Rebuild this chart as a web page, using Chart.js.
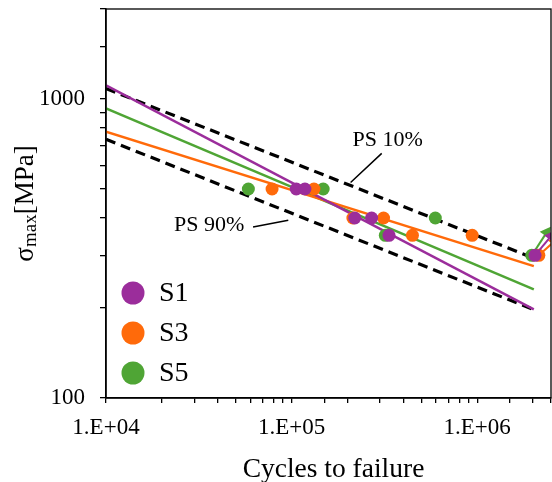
<!DOCTYPE html>
<html lang="en">
<head>
  <meta charset="UTF-8">
  <title>S-N curves</title>
  <script src="https://cdn.jsdelivr.net/npm/chart.js"></script>
  <style>
    body {
      margin: 0;
      padding: 0;
      background-color: #ffffff;
    }
    .chart-container {
      position: relative;
      width: 552px;
      height: 482px;
    }
  </style>
</head>
<body>
  <div class="chart-container">
    <canvas id="snChart" width="552" height="482"></canvas>
  </div>

  <script>
    // Data
    const seriesNames = ['S1', 'S3', 'S5'];
    const seriesColors = ['#9b2d9b', '#ff6a0a', '#4fa535'];

    const s1Cycles = [1.06e5, 1.18e5, 2.19e5, 2.70e5, 3.35e5];
    const s1Stress = [500, 500, 400, 400, 350];
    const s3Cycles = [7.85e4, 1.32e5, 2.14e5, 3.13e5, 4.48e5, 9.4e5];
    const s3Stress = [500, 500, 400, 400, 350, 350];
    const s5Cycles = [5.85e4, 1.48e5, 5.95e5, 3.2e5];
    const s5Stress = [500, 500, 400, 350];

    // run-outs: [start, arrow end]
    const s1RunoutCycles = [2.05e6, 2.5e6];
    const s1RunoutStress = [300, 348];
    const s3RunoutCycles = [2.15e6, 2.62e6];
    const s3RunoutStress = [300, 335];
    const s5RunoutCycles = [1.97e6, 2.37e6];
    const s5RunoutStress = [300, 358];

    // fitted curves (end points)
    const fitCycles = [1e4, 2.02e6];
    const s1FitStress = [1110, 198];
    const s3FitStress = [778, 276];
    const s5FitStress = [930, 231];
    const ps10Cycles = [1e4, 1.95e6];
    const ps10Stress = [1084, 296];
    const ps90Cycles = [1e4, 2.0e6];
    const ps90Stress = [733, 198];

    const xMajor = [1e4, 1e5, 1e6];
    const xMajorLabels = ['1.E+04', '1.E+05', '1.E+06'];
    const yMajor = [100, 1000];
    const yMajorLabels = ['100', '1000'];

    const serif = "'Liberation Serif', 'Times New Roman', serif";

    function pts(xs, ys) {
      return xs.map((x, i) => ({ x: x, y: ys[i] }));
    }

    function pointSet(i, xs, ys) {
      return {
        label: seriesNames[i],
        data: pts(xs, ys),
        backgroundColor: seriesColors[i],
        borderColor: seriesColors[i],
        pointRadius: 6.5,
        pointBorderWidth: 0,
        showLine: false,
        order: i
      };
    }

    function fitSet(i, ys) {
      return {
        label: seriesNames[i] + ' fit',
        data: pts(fitCycles, ys),
        borderColor: seriesColors[i],
        borderWidth: 2.5,
        pointRadius: 0,
        showLine: true,
        order: 10 + i
      };
    }

    function runoutSet(i, xs, ys) {
      return {
        label: seriesNames[i] + ' run-out',
        data: pts(xs, ys),
        borderColor: seriesColors[i],
        backgroundColor: seriesColors[i],
        borderWidth: 2,
        pointRadius: [6.5, 7],
        pointStyle: ['circle', 'triangle'],
        rotation: [0, 35],
        pointBorderWidth: 0,
        showLine: true,
        order: 5 + i
      };
    }

    function bandSet(name, xs, ys) {
      return {
        label: name,
        data: pts(xs, ys),
        borderColor: '#000000',
        borderWidth: 3.2,
        borderDash: [10, 6],
        pointRadius: 0,
        showLine: true,
        order: 20
      };
    }

    // keep the plot box fixed, labels may overflow
    function noPad(scale) {
      scale.paddingTop = 0;
      scale.paddingBottom = 0;
      scale.paddingLeft = 0;
      scale.paddingRight = 0;
    }

    const decorPlugin = {
      id: 'decor',
      afterDraw(chart) {
        const ctx = chart.ctx;
        const area = chart.chartArea;
        const xs = chart.scales.x;
        const ys = chart.scales.y;
        ctx.save();

        // frame
        ctx.strokeStyle = '#000';
        ctx.lineWidth = 1.3;
        ctx.strokeRect(area.left, area.top, area.right - area.left, area.bottom - area.top);

        // annotations
        ctx.fillStyle = '#000';
        ctx.font = '22px ' + serif;
        ctx.textAlign = 'center';
        ctx.textBaseline = 'middle';
        ctx.fillText('PS 10%', xs.getPixelForValue(3.29e5), ys.getPixelForValue(727));
        ctx.fillText('PS 90%', xs.getPixelForValue(3.6e4), ys.getPixelForValue(378));
        ctx.lineWidth = 1.5;
        ctx.beginPath();
        ctx.moveTo(xs.getPixelForValue(2.08e5), ys.getPixelForValue(526));
        ctx.lineTo(xs.getPixelForValue(3.06e5), ys.getPixelForValue(658));
        ctx.moveTo(xs.getPixelForValue(6.2e4), ys.getPixelForValue(373));
        ctx.lineTo(xs.getPixelForValue(9.6e4), ys.getPixelForValue(393));
        ctx.stroke();

        // legend
        ctx.font = '28px ' + serif;
        ctx.textAlign = 'left';
        seriesNames.forEach((name, i) => {
          const cy = area.bottom - 105 + i * 40;
          ctx.fillStyle = seriesColors[i];
          ctx.beginPath();
          ctx.arc(area.left + 27, cy, 11.5, 0, Math.PI * 2);
          ctx.fill();
          ctx.fillStyle = '#000';
          ctx.fillText(name, area.left + 53, cy + 1);
        });

        // x title
        ctx.font = '27.5px ' + serif;
        ctx.textAlign = 'center';
        ctx.textBaseline = 'alphabetic';
        ctx.fillText('Cycles to failure', (area.left + area.right) / 2 + 5, 477);

        // y title with subscript
        ctx.translate(33, 0);
        ctx.rotate(-Math.PI / 2);
        ctx.textAlign = 'left';
        const main = '27px ' + serif;
        const sub = '19px ' + serif;
        ctx.font = main;
        const w1 = ctx.measureText('\u03c3').width;
        const w3 = ctx.measureText('[MPa]').width;
        ctx.font = sub;
        const w2 = ctx.measureText('max').width;
        const total = w1 + w2 + w3;
        let pos = -((area.top + area.bottom) / 2) - total / 2;
        ctx.font = main;
        ctx.fillText('\u03c3', pos, 0);
        pos += w1;
        ctx.font = sub;
        ctx.fillText('max', pos, 3);
        pos += w2;
        ctx.font = main;
        ctx.fillText('[MPa]', pos, 0);

        ctx.restore();
      }
    };

    const ctxSn = document.getElementById('snChart').getContext('2d');
    const snChart = new Chart(ctxSn, {
      type: 'scatter',
      data: {
        datasets: [
          pointSet(0, s1Cycles, s1Stress),
          pointSet(1, s3Cycles, s3Stress),
          pointSet(2, s5Cycles, s5Stress),
          runoutSet(0, s1RunoutCycles, s1RunoutStress),
          runoutSet(1, s3RunoutCycles, s3RunoutStress),
          runoutSet(2, s5RunoutCycles, s5RunoutStress),
          fitSet(0, s1FitStress),
          fitSet(1, s3FitStress),
          fitSet(2, s5FitStress),
          bandSet('PS 10%', ps10Cycles, ps10Stress),
          bandSet('PS 90%', ps90Cycles, ps90Stress)
        ]
      },
      options: {
        responsive: false,
        animation: false,
        layout: {
          autoPadding: false,
          padding: { top: 9, right: 1, left: 0, bottom: 0 }
        },
        plugins: {
          legend: { display: false },
          tooltip: { enabled: false }
        },
        scales: {
          x: {
            type: 'logarithmic',
            min: 1e4,
            max: 2.5e6,
            afterFit(scale) { scale.height = 84; noPad(scale); },
            border: { display: true, color: '#000', width: 1.5 },
            grid: { drawOnChartArea: false, drawTicks: true, tickLength: 5, color: '#000', lineWidth: 1.3 },
            ticks: {
              autoSkip: false,
              maxRotation: 0,
              padding: 11,
              color: '#000',
              font: { family: serif, size: 23 },
              callback: (value) => {
                const k = xMajor.indexOf(value);
                return k >= 0 ? xMajorLabels[k] : '';
              }
            }
          },
          y: {
            type: 'logarithmic',
            min: 100,
            max: 2000,
            afterFit(scale) { scale.width = 106; noPad(scale); },
            border: { display: true, color: '#000', width: 1.5 },
            grid: { drawOnChartArea: false, drawTicks: true, tickLength: 6, color: '#000', lineWidth: 1.3 },
            ticks: {
              autoSkip: false,
              padding: 15,
              color: '#000',
              font: { family: serif, size: 23 },
              callback: (value) => {
                const k = yMajor.indexOf(value);
                return k >= 0 ? yMajorLabels[k] : '';
              }
            }
          }
        }
      },
      plugins: [decorPlugin]
    });
  </script>
</body>
</html>
